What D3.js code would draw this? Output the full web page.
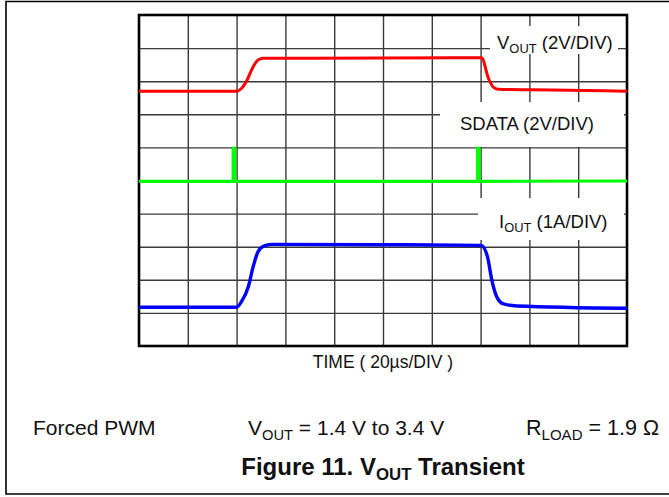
<!DOCTYPE html>
<html>
<head>
<meta charset="utf-8">
<script src="https://cdn.jsdelivr.net/npm/d3@7"></script>
<style>
  body { margin: 0; background: #fff; }
  text { font-family: "Liberation Sans", Arial, sans-serif; fill: #111; }
</style>
</head>
<body>
<div id="scope"></div>
<script>
// scope trace values, in grid divisions (x: 0..10 time div, y: 0..10 from bottom)
var voutTime = [0, 2.0, 2.1, 2.2, 2.34, 2.44, 2.55, 5.0, 7.02, 7.16, 7.26, 7.36, 8.07, 10];
var voutDiv  = [7.70, 7.70, 7.78, 7.99, 8.44, 8.64, 8.69, 8.70, 8.71, 8.09, 7.82, 7.76, 7.74, 7.70];

var sdataTime = [0, 1.93, 1.93, 1.96, 1.96, 6.94, 6.94, 6.97, 6.97, 10];
var sdataDiv  = [4.975, 4.975, 5.97, 5.97, 4.975, 4.975, 5.97, 5.97, 4.975, 4.985];

var ioutTime = [0, 2.0, 2.1, 2.24, 2.34, 2.44, 2.58, 2.75, 5.0, 7.01, 7.14, 7.23, 7.33, 7.47, 7.74, 10];
var ioutDiv  = [1.17, 1.17, 1.34, 1.79, 2.40, 2.85, 3.03, 3.07, 3.06, 3.04, 2.70, 1.99, 1.49, 1.27, 1.21, 1.14];

var gridTicks = [1, 2, 3, 4, 5, 6, 7, 8, 9];

var svgWidth = 669;
var svgHeight = 497;

var plot = { left: 139, right: 627, top: 15, bottom: 346 };

var svg = d3.select("#scope")
  .append("svg")
  .attr("width", svgWidth)
  .attr("height", svgHeight);

// outer figure frame (top, left, bottom)
svg.append("path")
  .attr("d", "M669,1.5 H6 V494 H669")
  .attr("fill", "none")
  .attr("stroke", "#000")
  .attr("stroke-width", 1.6);

var xScale = d3.scaleLinear().domain([0, 10]).range([plot.left, plot.right]);
var yScale = d3.scaleLinear().domain([0, 10]).range([plot.bottom, plot.top]);

var plotW = plot.right - plot.left;
var plotH = plot.bottom - plot.top;

// grid lines through the axes
var xGrid = svg.append("g")
  .attr("transform", `translate(0, ${plot.bottom})`)
  .call(d3.axisBottom(xScale).tickValues(gridTicks).tickSize(plotH).tickFormat(""));
xGrid.selectAll(".tick line").attr("y2", -plotH);

var yGrid = svg.append("g")
  .attr("transform", `translate(${plot.left}, 0)`)
  .call(d3.axisLeft(yScale).tickValues(gridTicks).tickSize(-plotW).tickFormat(""));

svg.selectAll(".domain").remove();
svg.selectAll(".tick line")
  .attr("stroke", "#3a3a3a")
  .attr("stroke-width", 1.4);

// white boxes behind the channel labels
var boxes = [
  { x: 490, y: 26, w: 128, h: 28 },
  { x: 440, y: 102, w: 184, h: 45 },
  { x: 478, y: 198, w: 146, h: 42 }
];
svg.selectAll("rect.box").data(boxes).enter()
  .append("rect")
  .attr("class", "box")
  .attr("x", function(d) { return d.x; })
  .attr("y", function(d) { return d.y; })
  .attr("width", function(d) { return d.w; })
  .attr("height", function(d) { return d.h; })
  .attr("fill", "#fff");

// plot border
svg.append("rect")
  .attr("x", plot.left)
  .attr("y", plot.top)
  .attr("width", plotW)
  .attr("height", plotH)
  .attr("fill", "none")
  .attr("stroke", "#000")
  .attr("stroke-width", 2.6);

function zipPts(ts, vs) {
  return ts.map(function(t, i) { return [t, vs[i]]; });
}

var smooth = d3.line()
  .x(function(d) { return xScale(d[0]); })
  .y(function(d) { return yScale(d[1]); })
  .curve(d3.curveMonotoneX);

var straight = d3.line()
  .x(function(d) { return xScale(d[0]); })
  .y(function(d) { return yScale(d[1]); });

svg.append("path")
  .attr("d", smooth(zipPts(voutTime, voutDiv)))
  .attr("fill", "none")
  .attr("stroke", "#ff0000")
  .attr("stroke-width", 3);

svg.append("path")
  .attr("d", straight(zipPts(sdataTime, sdataDiv)))
  .attr("fill", "none")
  .attr("stroke", "#00ff00")
  .attr("stroke-width", 3.2);

svg.append("path")
  .attr("d", smooth(zipPts(ioutTime, ioutDiv)))
  .attr("fill", "none")
  .attr("stroke", "#0000ff")
  .attr("stroke-width", 3.4);

// channel labels
function subLabel(x, y, size, main, sub, rest, weight) {
  var t = svg.append("text")
    .attr("x", x)
    .attr("y", y)
    .attr("font-size", size)
    .attr("font-weight", weight || "normal");
  t.append("tspan").text(main);
  t.append("tspan").attr("dy", size * 0.22).attr("font-size", size * 0.7).text(sub);
  t.append("tspan").attr("dy", -size * 0.22).text(rest);
  return t;
}

subLabel(497, 49, 18.5, "V", "OUT", " (2V/DIV)");
svg.append("text")
  .attr("x", 460)
  .attr("y", 130)
  .attr("font-size", 18.5)
  .text("SDATA (2V/DIV)");
subLabel(499, 228, 18.5, "I", "OUT", " (1A/DIV)");

svg.append("text")
  .attr("x", 383)
  .attr("y", 368)
  .attr("text-anchor", "middle")
  .attr("font-size", 17.5)
  .text("TIME ( 20µs/DIV )");

// conditions line
svg.append("text")
  .attr("x", 33)
  .attr("y", 435)
  .attr("font-size", 21)
  .text("Forced PWM");
subLabel(248, 435, 21, "V", "OUT", " = 1.4 V to 3.4 V");
subLabel(526, 435, 21.5, "R", "LOAD", " = 1.9 Ω");

// caption
subLabel(383, 475, 24, "Figure 11. V", "OUT", " Transient", "bold")
  .attr("text-anchor", "middle");
</script>
</body>
</html>
